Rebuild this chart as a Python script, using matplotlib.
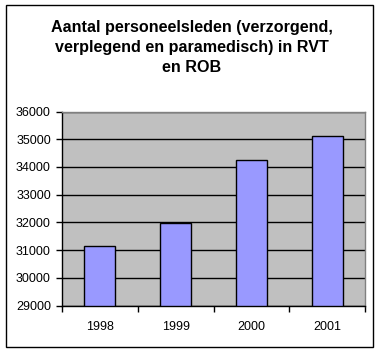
import matplotlib
matplotlib.use("Agg")
import matplotlib.pyplot as plt
from matplotlib.patches import Rectangle

years = ["1998", "1999", "2000", "2001"]
values = [31140, 31970, 34250, 35115]
yticks = [29000, 30000, 31000, 32000, 33000, 34000, 35000, 36000]
title = "Aantal personeelsleden (verzorgend,\nverplegend en paramedisch) in RVT\nen ROB"

plt.rcParams['font.family'] = ['Liberation Sans', 'DejaVu Sans']
W, H = 380, 351
fig = plt.figure(figsize=(W/100, H/100), dpi=100)
fig.patches.append(Rectangle((6/W, 1 - 347/H), 367/W, 342/H, transform=fig.transFigure,
                             fill=False, edgecolor='black', linewidth=1))

x0, x1, yt, yb = 62, 365, 111.5, 305.5
ax = fig.add_axes([x0/W, 1 - yb/H, (x1-x0)/W, (yb-yt)/H])
ax.set_facecolor('#C0C0C0')
pos = list(range(len(years)))
ax.bar(pos, [v - 29000 for v in values], bottom=29000, width=0.41,
       color='#9999FF', edgecolor='black', linewidth=1, zorder=3)
ax.set_xlim(-0.5, len(years) - 0.5)
ax.set_ylim(29000, 36000)
ax.set_yticks(yticks)
ax.set_yticklabels([str(t) for t in yticks], fontsize=9)
ax.yaxis.grid(True, color='black', linewidth=1, zorder=1)
ax.set_axisbelow(True)
ax.set_xticks([p + 0.5 for p in pos[:-1]] + [-0.5, len(years) - 0.5])
ax.set_xticklabels([])
ax.set_xticks(pos, minor=True)
ax.set_xticklabels(years, minor=True, fontsize=9)
ax.tick_params(axis='x', which='minor', length=0, pad=11)
ax.tick_params(axis='x', which='major', length=4, width=1, direction='out')
ax.tick_params(axis='y', length=4, width=1, direction='out', pad=4)
for s in ['left', 'bottom']:
    ax.spines[s].set_color('black')
    ax.spines[s].set_linewidth(1)
for s in ['top', 'right']:
    ax.spines[s].set_color('#808080')
    ax.spines[s].set_linewidth(1)

fig.text(0.5 + 2/W, 1 - 47.5/H, title, ha='center', va='center', fontsize=11.6,
         fontweight='bold', linespacing=1.45)
fig.savefig("out.png", dpi=100)
